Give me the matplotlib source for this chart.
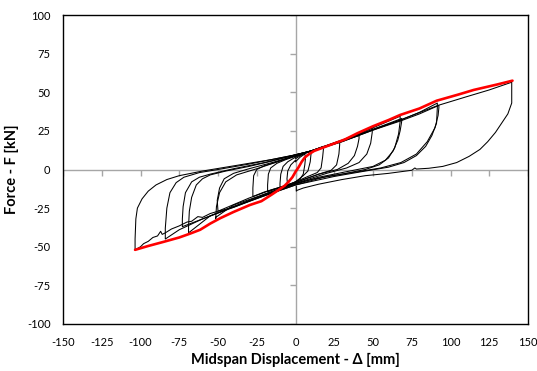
import matplotlib
matplotlib.use("Agg")
import matplotlib.pyplot as plt
from matplotlib.lines import TICKDOWN, TICKLEFT

# ---------------- data ----------------
x_ticks = [-150, -125, -100, -75, -50, -25, 0, 25, 50, 75, 100, 125, 150]
y_ticks = [-100, -75, -50, -25, 0, 25, 50, 75, 100]

cyc1_x = [0, 3, 6, 6.5, 6, 5, 3, 0, -3, -5, -5.5, -5, -3, 0]
cyc1_y = [5, 8, 10, 8, 3, -3, -6, -8, -9.5, -10.5, -6, -1, 3, 6]

cyc2_x = [0, 5, 10, 10, 9.5, 8, 5, 0, -5, -10, -10, -9.5, -8, -5, 0]
cyc2_y = [7, 10, 12, 10, 5, -1, -4, -8, -10, -12, -9, -3, 2, 5, 8]

cyc3_x = [0, 10, 18, 18, 17.5, 16.5, 14, 8, 0, -8, -18, -18, -17.5, -16, -12, -6, 0]
cyc3_y = [8, 12, 15, 13, 8, 1, -2, -4.5, -8, -11, -14.5, -10, -3, 1, 4, 6.5, 8.5]

cyc4_x = [0, 10, 20, 28.5, 28.5, 28, 26.5, 23, 15, 5, 0, -10, -20, -27.5, -27.5, -27, -25, -20, -12, 0]
cyc4_y = [8.5, 12, 15.5, 18.5, 16, 10, 3, -0.5, -3, -6.5, -8.5, -11.5, -14.5, -17.5, -12, -4, 0, 2.5, 5, 9]

cyc5_x = [0, 10, 25, 41, 41, 40, 38, 34, 27, 15, 0, -15, -30, -50, -50.5, -49, -46, -40, -30, -15, 0]
cyc5_y = [9, 12, 17, 22, 20, 15, 9, 4, 0, -3, -8.5, -13, -18.5, -27, -20, -12, -6, -2.5, 0.5, 4.5, 9]

cyc6_x = [0, 10, 25, 40, 49.5, 49.5, 48.5, 46, 41, 33, 20, 0, -20, -40, -51.5, -51.5, -51, -49, -45, -38, -25, -10, 0]
cyc6_y = [9, 12, 17, 22.5, 27, 24, 17, 10, 4.5, 1, -2.5, -9, -16, -23, -31, -32, -24, -15, -8, -3.5, 0.5, 5.5, 9]

cyc7_x = [0, 10, 30, 50, 67.5, 67.5, 66.5, 64, 60, 54, 45, 30, 10, 0, -20, -40, -55, -69,
          -69, -68.5, -67, -64, -60, -55, -45, -30, -15, 0]
cyc7_y = [9.5, 12, 19, 27, 34.5, 31, 23, 14, 7.5, 3, 0, -3, -6.5, -9, -16, -24, -30, -41,
          -37, -27, -18, -10, -6, -3.5, -1, 2, 5.5, 9.5]

cyc8_x = [0, 10, 30, 50, 68.5, 68.5, 67.5, 66, 63, 58, 50, 35, 15, 0, -20, -40, -60, -73,
          -73, -72.5, -71, -67, -62, -55, -40, -20, 0]
cyc8_y = [9.5, 12, 18.5, 26, 33, 31, 25, 19, 12, 6, 2, -1, -5, -9.5, -16.5, -24.5, -32, -37,
          -32, -24, -15, -8, -5, -3, 0.5, 4.5, 9.5]

cyc9_x = [0, 10, 30, 50, 68, 80, 91.5, 91.5, 91, 88, 84, 78, 70, 60, 45, 25, 0, -20, -40, -60,
          -75, -84, -84, -83, -81, -77, -72, -62, -50, -30, -10, 0]
cyc9_y = [9.5, 12, 18.5, 26, 32, 37, 43, 40, 30, 22, 15, 9, 4.5, 1.5, -1, -4.5, -10, -17, -24, -32,
          -39, -45, -38, -25, -15, -8.5, -5, -2, 0, 3.5, 7.5, 9.5]

cyc10_x = [0, 10, 30, 50, 68, 80, 92.5, 92.5, 92, 90, 85, 78, 68, 55, 40, 20, 0, -20, -40,
           -50, -55, -60, -63, -67, -70, -75, -80, -84, -86, -87, -89, -92, -95, -98, -100,
           -103.5, -103.5, -103, -102, -99, -95, -90, -83, -75, -60, -45, -30, -15, 0, 10]
cyc10_y = [9.5, 12, 18, 25.5, 31.5, 36, 41.5, 40, 35, 27, 18, 10, 4.5, 1, -1.5, -4.5, -10, -17, -24.5,
           -27, -28.5, -31, -30.5, -33.5, -34, -36.5, -38.5, -41, -42, -40, -43, -44, -46.5, -48, -50,
           -52, -45, -32, -25, -19, -14, -10, -6.5, -4, -1, 1.5, 4, 6.5, 9.5, 11.5]

cyc11_x = [10, 30, 50, 70, 92, 110, 125, 139.5, 139.5, 137, 133, 129, 124, 119, 112, 104, 95,
           86, 78, 77, 75, 60, 45, 30, 15, 5, 1, 0.5, 0.5]
cyc11_y = [11.5, 18, 25.5, 33, 41.5, 47, 51.5, 56.5, 43, 36, 30, 24, 18, 13, 8.5, 4.5, 2,
           0.8, 0.3, 1, -0.5, -2.5, -4, -6.5, -9.5, -12, -13.5, -14, -11]

env_x = [-103.5, -95, -85, -75, -68, -61.5, -55, -48.5, -40, -29.5, -22, -15, -11, -7, -4.5,
         -2, 0, 2, 4, 6, 8.5, 12, 20, 32, 40, 50, 60, 67.5, 80, 91, 105, 115, 130, 140]
env_y = [-52, -49.5, -46.8, -44, -41.5, -39, -35, -31.5, -27.5, -23, -20.5, -16, -13.3, -10.5, -8,
         -5, -1.5, 1.5, 5, 7.8, 9.8, 12, 15, 19.5, 23.5, 28, 32, 35.3, 39.5, 44.5, 48.5, 51.5, 55, 57.5]

cycles = [(cyc1_x, cyc1_y), (cyc2_x, cyc2_y), (cyc3_x, cyc3_y), (cyc4_x, cyc4_y),
          (cyc5_x, cyc5_y), (cyc6_x, cyc6_y), (cyc7_x, cyc7_y), (cyc8_x, cyc8_y),
          (cyc9_x, cyc9_y), (cyc10_x, cyc10_y), (cyc11_x, cyc11_y)]

# ---------------- figure ----------------
plt.rcParams['font.family'] = ['Lato', 'DejaVu Sans']
plt.rcParams['axes.unicode_minus'] = False

fig = plt.figure(figsize=(5.37, 3.71), dpi=100)
ax = fig.add_axes([63/537, 1 - 324/371, (528 - 63)/537, (324 - 15)/371])

# zero axes (Excel style crossing lines)
ax.axhline(0, color='#a6a6a6', lw=1.0, zorder=1)
ax.axvline(0, color='#a6a6a6', lw=1.0, zorder=1)
ax.plot(x_ticks, [0] * len(x_ticks), ls='none', marker=TICKDOWN, ms=4,
        mec='#a6a6a6', mew=1.0, zorder=1)
ax.plot([0] * len(y_ticks), y_ticks, ls='none', marker=TICKLEFT, ms=4,
        mec='#a6a6a6', mew=1.0, zorder=1)

for cx, cy in cycles:
    ax.plot(cx, cy, color='black', lw=0.75, zorder=2)

ax.plot(env_x, env_y, color='#ff0000', lw=1.9, zorder=3, solid_capstyle='round')

ax.set_xlim(-150, 150)
ax.set_ylim(-100, 100)
ax.set_xticks(x_ticks)
ax.set_yticks(y_ticks)
ax.tick_params(length=0, labelsize=8, pad=9, colors='black')
for s in ax.spines.values():
    s.set_linewidth(1.0)
    s.set_color('black')

ax.set_xlabel('Midspan Displacement - Δ [mm]', fontsize=10.5, fontweight='bold', labelpad=4)
ax.set_ylabel('Force - F [kN]', fontsize=10.5, fontweight='bold', labelpad=6)

fig.savefig('out.png', dpi=100)
